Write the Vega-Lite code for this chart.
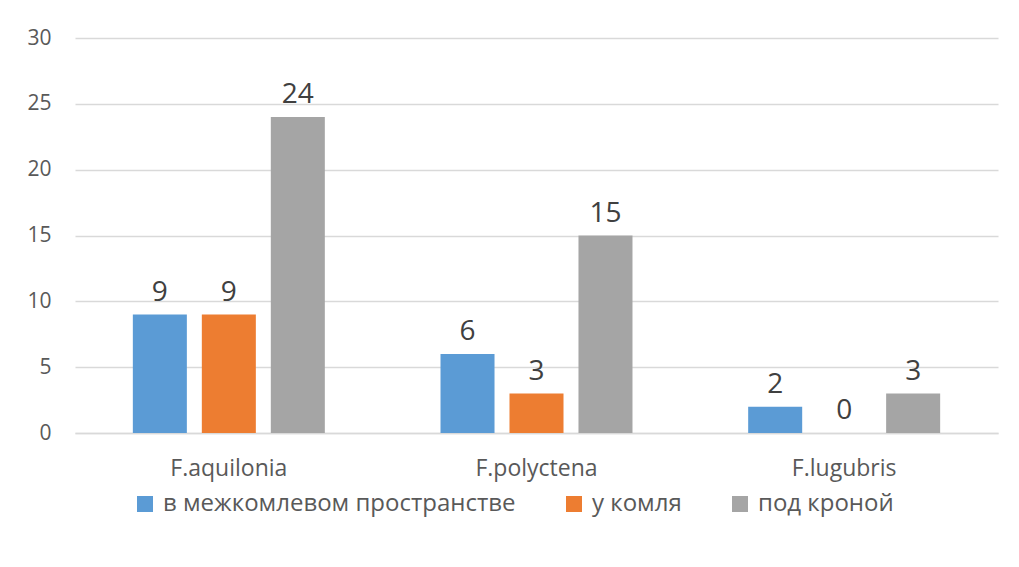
{
  "$schema": "https://vega.github.io/schema/vega-lite/v6.json",
  "width": 923,
  "height": 395,
  "autosize": {"type": "none"},
  "padding": {"left": 75, "top": 38, "right": 21, "bottom": 134},
  "background": "white",
  "config": {
    "font": "Open Sans",
    "view": {"stroke": null}
  },
  "data": {
    "values": [
      {"species": "F.aquilonia", "place": "в межкомлевом пространстве", "count": 9},
      {"species": "F.aquilonia", "place": "у комля", "count": 9},
      {"species": "F.aquilonia", "place": "под кроной", "count": 24},
      {"species": "F.polyctena", "place": "в межкомлевом пространстве", "count": 6},
      {"species": "F.polyctena", "place": "у комля", "count": 3},
      {"species": "F.polyctena", "place": "под кроной", "count": 15},
      {"species": "F.lugubris", "place": "в межкомлевом пространстве", "count": 2},
      {"species": "F.lugubris", "place": "у комля", "count": 0},
      {"species": "F.lugubris", "place": "под кроной", "count": 3}
    ]
  },
  "encoding": {
    "x": {
      "field": "species", "type": "nominal",
      "sort": ["F.aquilonia", "F.polyctena", "F.lugubris"],
      "scale": {"paddingInner": 0.376, "paddingOuter": 0.188},
      "axis": {
        "title": null, "labelAngle": 0, "ticks": false,
        "domainColor": "#d9d9d9", "domainWidth": 1.5,
        "labelFontSize": 23, "labelColor": "#595959", "labelPadding": 24,
        "labelFont": "Open Sans"
      }
    },
    "xOffset": {
      "field": "place", "type": "nominal",
      "sort": ["в межкомлевом пространстве", "у комля", "под кроной"],
      "scale": {"paddingInner": 0.217, "paddingOuter": 0}
    },
    "y": {
      "field": "count", "type": "quantitative",
      "scale": {"domain": [0, 30], "nice": false},
      "axis": {
        "title": null, "values": [0, 5, 10, 15, 20, 25, 30],
        "domain": false, "ticks": false,
        "gridColor": "#d9d9d9", "gridWidth": 1.5,
        "labelFontSize": 21, "labelColor": "#595959", "labelPadding": 24
      }
    }
  },
  "layer": [
    {
      "mark": {"type": "bar"},
      "encoding": {
        "color": {
          "field": "place", "type": "nominal",
          "sort": ["в межкомлевом пространстве", "у комля", "под кроной"],
          "scale": {
            "domain": ["в межкомлевом пространстве", "у комля", "под кроной"],
            "range": ["#5B9BD5", "#ED7D31", "#A5A5A5"]
          },
          "legend": {
            "title": null, "orient": "none", "direction": "horizontal",
            "legendX": 58, "legendY": 454,
            "symbolType": "square", "symbolSize": 256, "symbolStrokeWidth": 0,
            "labelFontSize": 24, "labelColor": "#595959", "labelOffset": 6,
            "labelLimit": 600, "columnPadding": 46
          }
        }
      }
    },
    {
      "mark": {"type": "text", "baseline": "bottom", "dy": -8, "fontSize": 28, "color": "#404040"},
      "encoding": {
        "text": {"field": "count", "type": "quantitative"}
      }
    }
  ]
}
